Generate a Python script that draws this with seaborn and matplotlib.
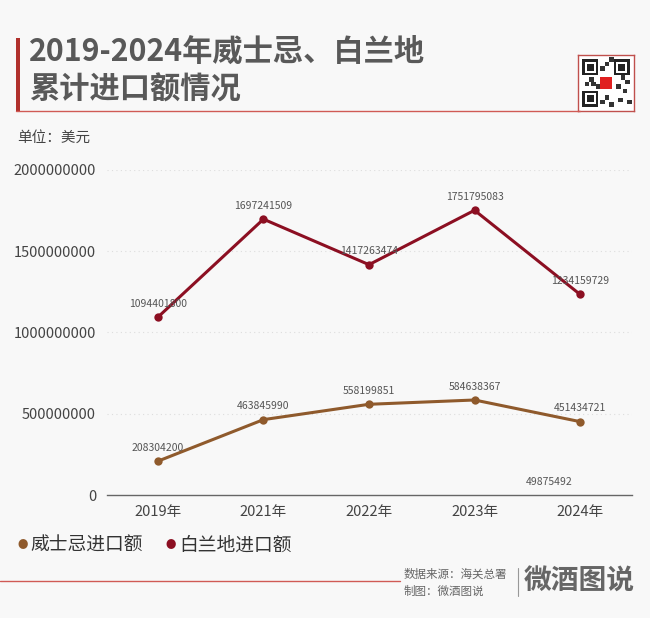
import pandas as pd
import seaborn as sns
import numpy as np
import matplotlib
matplotlib.use('Agg')
import matplotlib.pyplot as plt
from matplotlib.patches import Rectangle

# data
years = ['2019年', '2021年', '2022年', '2023年', '2024年']
whisky = [208304200, 463845990, 558199851, 584638367, 451434721]
brandy = [1094401800, 1697241509, 1417263474, 1751795083, 1234159729]
stray_label = 49875492
yticks = [0, 500000000, 1000000000, 1500000000, 2000000000]

whisky_name = '威士忌进口额'
brandy_name = '白兰地进口额'
c_whisky = '#8f5a2c'
c_brandy = '#8c0f22'
bg = '#f8f8f8'

sns.set_theme(style='white')
plt.rcParams['font.family'] = ['Noto Sans CJK SC', 'DejaVu Sans']

df = pd.DataFrame({
    'year': years * 2,
    'value': whisky + brandy,
    'series': [whisky_name] * len(years) + [brandy_name] * len(years),
})

fig = plt.figure(figsize=(6.5, 6.18), dpi=100, facecolor=bg)
ax = fig.add_axes([0.165, 0.199, 0.807, 0.526], facecolor=bg)

sns.lineplot(data=df, x='year', y='value', hue='series',
             palette={whisky_name: c_whisky, brandy_name: c_brandy},
             marker='o', markersize=6, markeredgewidth=0, linewidth=2.2,
             legend=False, ax=ax, clip_on=False)

# data labels
for vals in (whisky, brandy):
    for i, v in enumerate(vals):
        ax.annotate(f'{v}', (i, v), xytext=(0, 6), textcoords='offset points',
                    ha='center', va='bottom', fontsize=7.5, color='#555555')
ax.annotate(f'{stray_label}', (4, stray_label), xytext=(-22, 0), textcoords='offset points',
            ha='center', va='bottom', fontsize=7.5, color='#555555')

ax.set_xlim(-0.48, 4.49)
ax.set_ylim(0, 2000000000)
ax.set_yticks(yticks)
ax.set_yticklabels([str(t) for t in yticks], fontsize=10.5, color='#444444')
ax.tick_params(axis='x', labelsize=10.5, labelcolor='#444444', length=4, color='#666666', pad=3)
ax.tick_params(axis='y', length=0, pad=8)
ax.set_xlabel('')
ax.set_ylabel('')
for t in yticks[1:]:
    ax.axhline(t, color='#dddddd', linestyle=(0, (1, 3)), linewidth=0.8, zorder=0)
for s in ['top', 'right', 'left']:
    ax.spines[s].set_visible(False)
ax.spines['bottom'].set_color('#666666')
ax.spines['bottom'].set_linewidth(1)

# title block
fig.add_artist(Rectangle((16 / 650, 1 - 111 / 618), 4 / 650, 73 / 618,
                         transform=fig.transFigure, color='#b0302c', lw=0))
fig.add_artist(plt.Line2D([16 / 650, 580 / 650], [1 - 111 / 618] * 2,
                          transform=fig.transFigure, color='#d05a55', lw=1))
fig.text(29 / 650, 1 - 52 / 618, '2019-2024年威士忌、白兰地', fontsize=21.8,
         fontweight='bold', color='#595959', va='center', ha='left')
fig.text(29 / 650, 1 - 90 / 618, '累计进口额情况', fontsize=21.8,
         fontweight='bold', color='#595959', va='center', ha='left')

# qr code placeholder
qx, qy, qs = 578 / 650, 1 - 111 / 618, 56
qr = fig.add_axes([qx, qy, qs / 650, qs / 618])
qr.set_xlim(0, 25)
qr.set_ylim(0, 25)
qr.set_xticks([])
qr.set_yticks([])
for s in qr.spines.values():
    s.set_color('#c0504d')
    s.set_linewidth(1)
qr.set_facecolor('white')
for (x0, y0) in [(2, 2), (2, 16), (16, 16)]:
    qr.add_patch(Rectangle((x0, y0), 7, 7, fc='#222222', lw=0))
    qr.add_patch(Rectangle((x0 + 1, y0 + 1), 5, 5, fc='white', lw=0))
    qr.add_patch(Rectangle((x0 + 2, y0 + 2), 3, 3, fc='#222222', lw=0))
pattern = [(10, 3), (12, 5), (14, 2), (18, 4), (20, 8), (3, 11), (5, 13), (8, 10),
           (21, 12), (17, 10), (12, 20), (10, 18), (14, 22), (19, 14), (6, 11), (22, 3)]
for (px, py) in pattern:
    qr.add_patch(Rectangle((px, py), 2, 2, fc='#333333', lw=0))
qr.add_patch(Rectangle((10, 10), 5, 5, fc='#e02020', lw=0))

# unit
fig.text(17 / 650, 1 - 138 / 618, '单位：美元', fontsize=10.5, color='#444444',
         va='center', ha='left')

# legend
fig.text(17 / 650, 1 - 545 / 618, '●', fontsize=7.5, color=c_whisky, va='center', ha='left')
fig.text(30 / 650, 1 - 545 / 618, whisky_name, fontsize=13.5, color='#333333', va='center', ha='left')
fig.text(165 / 650, 1 - 545 / 618, '●', fontsize=7.5, color=c_brandy, va='center', ha='left')
fig.text(179 / 650, 1 - 545 / 618, brandy_name, fontsize=13.5, color='#333333', va='center', ha='left')

# footer
fig.add_artist(plt.Line2D([0, 400 / 650], [1 - 581 / 618] * 2,
                          transform=fig.transFigure, color='#d05a55', lw=1))
fig.text(404 / 650, 1 - 574 / 618, '数据来源：海关总署', fontsize=8.3, color='#666666',
         va='center', ha='left')
fig.text(404 / 650, 1 - 591 / 618, '制图：微酒图说', fontsize=8.3, color='#666666',
         va='center', ha='left')
fig.add_artist(plt.Line2D([518 / 650] * 2, [1 - 596 / 618, 1 - 568 / 618],
                          transform=fig.transFigure, color='#999999', lw=0.8))
fig.text(524 / 650, 1 - 582 / 618, '微酒图说', fontsize=20, fontweight='bold',
         color='#666666', va='center', ha='left')

fig.savefig('out.png', dpi=100, facecolor=bg)
